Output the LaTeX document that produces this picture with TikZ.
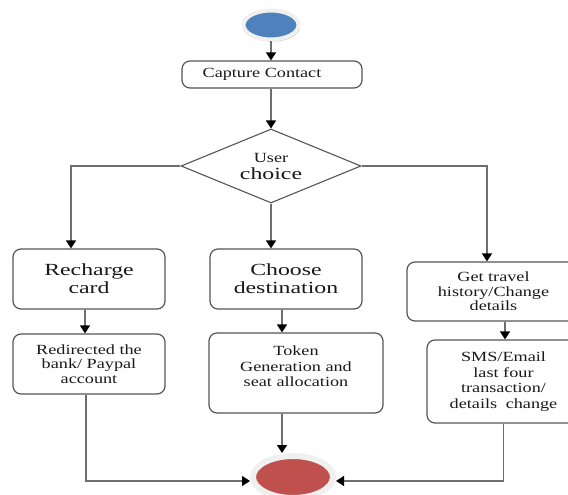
\documentclass[tikz,border=0pt]{standalone}
\usepackage{fontspec}
\setmainfont{Liberation Serif}
\newfontfamily\smallfnt[FakeStretch=1.3]{Liberation Serif}
\newfontfamily\bigfnt[FakeStretch=1.4]{Liberation Serif}
\usetikzlibrary{shapes.geometric,arrows.meta,shadows,calc}
\definecolor{startblue}{HTML}{4F81BD}
\definecolor{endred}{HTML}{C0504D}
\definecolor{linegray}{HTML}{555555}
\begin{document}
\begin{tikzpicture}[x=1pt,y=-1pt,
  box/.style={draw=linegray, line width=1.2pt, rounded corners=8pt, fill=white, inner sep=0pt, text=black!90},
  smalltxt/.style={font=\smallfnt\fontsize{14}{14.5}\selectfont},
  bigtxt/.style={font=\bigfnt\fontsize{17}{18}\selectfont},
  conn/.style={draw=linegray!85, line width=1.4pt, -{Triangle[width=10pt,length=8pt,color=black]}},
  terminal/.style={ellipse, inner sep=0pt, draw=gray!12,
    drop shadow={shadow xshift=1.5pt, shadow yshift=-2pt, fill=black!50, opacity=0.5}}
]
\useasboundingbox (0,0) rectangle (568,495);
\fill[white] (0,0) rectangle (568,495);

\node[terminal, fill=startblue, line width=4pt, minimum width=55pt, minimum height=29pt] (start) at (271,25) {};

\node[box, smalltxt, minimum width=180pt, minimum height=27pt] (cap) at (272,74.5) {Capture Contact\hspace*{20pt}};

\node[diamond, draw=linegray, line width=1.1pt, aspect=2.4, minimum width=180pt, minimum height=74pt, inner sep=0pt, align=center, fill=white, text=black!90, font=\bigfnt\fontsize{17}{17}\selectfont] (dia) at (271,166)
  {{\smallfnt\fontsize{14}{15}\selectfont User}\\[0pt]choice};

\node[box, bigtxt, align=center, minimum width=152pt, minimum height=60pt] (rech) at (89,279) {Recharge\\card};
\node[box, smalltxt, align=center, minimum width=152pt, minimum height=60pt] (redir) at (89,364) {Redirected the\\bank/ Paypal\\account};

\node[box, bigtxt, align=center, minimum width=152pt, minimum height=60pt] (choose) at (286,279) {Choose\\destination};
\node[box, smalltxt, align=center, minimum width=174pt, minimum height=80pt, text depth=13.5pt] (token) at (296,373) {Token\\[1pt]Generation and\\[1pt]seat allocation};

\node[box, smalltxt, align=center, minimum width=173pt, minimum height=59pt] (travel) at (493.5,291.5) {Get travel\\history/Change\\details};
\node[box, smalltxt, align=center, minimum width=153pt, minimum height=83pt] (sms) at (503.5,381.5) {SMS/Email\\[1pt]last four\\[1pt]transaction/\\[1pt]details\hspace{4pt} change};

\node[terminal, fill=endred, line width=6pt, minimum width=80pt, minimum height=42pt] (end) at (293,477) {};

\draw[conn] (start.south) -- (start.south |- cap.north);
\draw[conn] (dia.north |- cap.south) -- (dia.north);
\draw[conn] (dia.west) -| ([xshift=-18pt]rech.north);
\draw[conn] (dia.south) -- (dia.south |- choose.north);
\draw[conn] (dia.east) -| ([xshift=-6.5pt]travel.north);
\draw[conn] ([xshift=-4pt]rech.south) -- ([xshift=-4pt]redir.north);
\draw[conn] ([xshift=-4pt]choose.south) -- ([xshift=-4pt]choose.south |- token.north);
\draw[conn] ([xshift=11.5pt]travel.south) -- ([xshift=11.5pt]travel.south |- sms.north);
\draw[conn] ([xshift=-14pt]token.south) -- ([xshift=-14pt]token.south |- end.north);
\draw[conn] ([xshift=-3pt]redir.south) |- ([yshift=-4pt]end.west);
\draw[conn] (sms.south) |- ([yshift=-4pt]end.east);
\end{tikzpicture}
\end{document}
